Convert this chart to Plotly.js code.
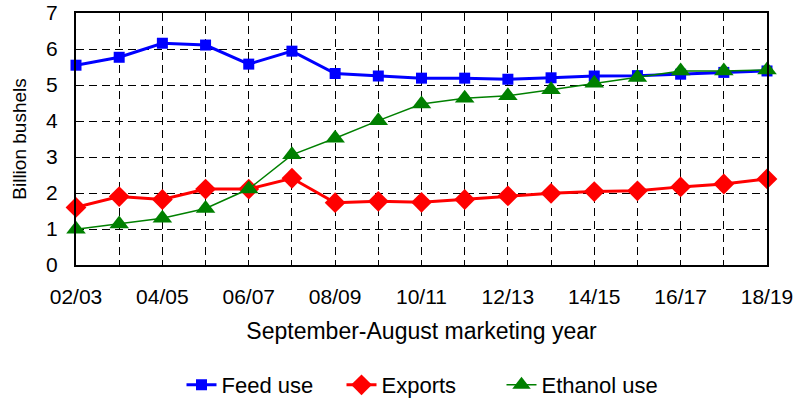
<!DOCTYPE html>
<html>
<head>
<meta charset="utf-8">
<script src="https://cdn.plot.ly/plotly-3.0.1.min.js"></script>
<style>html,body{margin:0;padding:0;background:#fff;}#chart{width:809px;height:400px;}</style>
</head>
<body>
<div id="chart"></div>
<script>
const years = ["02/03","03/04","04/05","05/06","06/07","07/08","08/09","09/10","10/11","11/12","12/13","13/14","14/15","15/16","16/17","17/18","18/19"];
const feedUse = [5.55,5.77,6.16,6.11,5.58,5.94,5.32,5.25,5.19,5.19,5.16,5.20,5.25,5.26,5.30,5.35,5.39];
const exportsUse = [1.60,1.90,1.82,2.11,2.11,2.41,1.73,1.77,1.74,1.82,1.92,1.99,2.04,2.06,2.17,2.25,2.39];
const ethanolUse = [0.99,1.14,1.30,1.57,2.11,3.06,3.52,4.01,4.47,4.63,4.70,4.87,5.05,5.21,5.39,5.39,5.42];
const tickLabels = years.map((y,i)=> i%2===0 ? y : "");

const traces = [
  {x: years, y: feedUse, name: "Feed use", type: "scatter", mode: "lines+markers", cliponaxis: false,
   line: {color: "#0000ff", width: 3}, marker: {symbol: "square", size: 11, color: "#0000ff"}},
  {x: years, y: exportsUse, name: "Exports", type: "scatter", mode: "lines+markers", cliponaxis: false,
   line: {color: "#ff0000", width: 3}, marker: {symbol: "diamond", size: 16, color: "#ff0000"}},
  {x: years, y: ethanolUse, name: "Ethanol use", type: "scatter", mode: "lines+markers", cliponaxis: false,
   line: {color: "#008000", width: 1.5}, marker: {symbol: "triangle-up", size: 17, color: "#008000"}}
];

const layout = {
  width: 809, height: 400,
  margin: {l: 76, r: 42, t: 13, b: 135},
  paper_bgcolor: "#fff", plot_bgcolor: "#fff",
  font: {family: "Liberation Sans, Arial, sans-serif", size: 20, color: "#000"},
  showlegend: true,
  legend: {orientation: "h", x: 0.5, xanchor: "center", yref: "container", y: 0.0375, yanchor: "middle",
           font: {size: 22}, traceorder: "normal", borderwidth: 0,
           entrywidth: 115, entrywidthmode: "pixels"},
  xaxis: {type: "category", range: [0, 16], tickvals: years, ticktext: tickLabels,
          tickfont: {size: 21},
          showgrid: true, gridcolor: "#000", griddash: "8px,5px", gridwidth: 1,
          showline: true, mirror: true, linecolor: "#000", linewidth: 2,
          ticks: "", ticklabelstandoff: 12, zeroline: false,
          title: {text: "September-August marketing year", font: {size: 23}, standoff: 16}},
  yaxis: {range: [0, 7], dtick: 1, tick0: 0, tickfont: {size: 21},
          showgrid: true, gridcolor: "#000", griddash: "8px,5px", gridwidth: 1,
          showline: true, mirror: true, linecolor: "#000", linewidth: 2,
          ticks: "", ticklabelstandoff: 12, zeroline: false,
          title: {text: "Billion bushels", font: {size: 19}, standoff: 14}}
};

Plotly.newPlot("chart", traces, layout, {displayModeBar: false, staticPlot: true});
</script>
</body>
</html>
